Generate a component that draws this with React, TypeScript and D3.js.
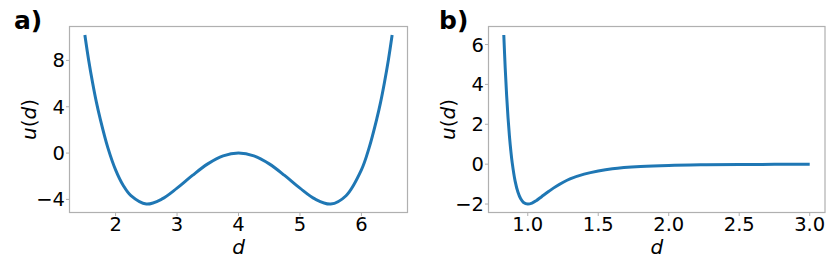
import React, { useEffect, useRef } from "react";
import * as d3 from "d3";

const width = 831,
  height = 260;

// panel a) double well
const dA = [1.5, 1.5625, 1.625, 1.6875, 1.75, 1.875, 2.0, 2.125, 2.25, 2.5, 2.75, 3.0, 3.25, 3.5, 3.75, 4.0,
  4.25, 4.5, 4.75, 5.0, 5.25, 5.5, 5.75, 6.0, 6.125, 6.25, 6.3125, 6.375, 6.4375, 6.5];
const uA = [10.2, 8.0, 6.1, 4.4, 2.95, 0.45, -1.45, -2.8, -3.68, -4.4, -3.98, -3.03, -1.93, -0.93, -0.24, 0,
  -0.24, -0.93, -1.93, -3.03, -3.98, -4.4, -3.68, -1.45, 0.45, 2.95, 4.4, 6.1, 8.0, 10.2];

// panel b) Lennard-Jones like
const dB = [0.83, 0.84, 0.85, 0.86, 0.87, 0.88, 0.89, 0.91, 0.93, 0.95, 0.97, 1.0, 1.03, 1.06, 1.1, 1.15, 1.2,
  1.3, 1.4, 1.5, 1.6, 1.8, 2.0, 2.25, 2.5, 2.75, 3.0];
const uB = [6.48, 4.82, 3.46, 2.33, 1.41, 0.66, 0.05, -0.84, -1.4, -1.74, -1.92, -2.0, -1.95, -1.83, -1.62,
  -1.36, -1.12, -0.74, -0.5, -0.34, -0.23, -0.12, -0.062, -0.031, -0.016, -0.009, -0.005];

const ticksA_x = [2, 3, 4, 5, 6];
const ticksA_y = [-4, 0, 4, 8];
const ticksB_x = [1.0, 1.5, 2.0, 2.5, 3.0];
const ticksB_y = [-2, 0, 2, 4, 6];

const font = "DejaVu Sans";
const spine = "#b0b0b0";
const ink = "#000";

function padded(vals: number[]) {
  const [lo, hi] = d3.extent(vals) as [number, number];
  const m = (hi - lo) * 0.05;
  return [lo - m, hi + m];
}

function drawPanel(svg: any, opt: any) {
  const { xs, ys, tx, ty, fmtX, left, right, top, bottom, label } = opt;
  const pts = xs.map((x: number, i: number) => [x, ys[i]]);

  const x = d3.scaleLinear().domain(padded(xs)).range([left, right]);
  const y = d3.scaleLinear().domain(padded(ys)).range([bottom, top]);

  const g = svg.append("g");

  const line = d3
    .line<number[]>()
    .x(d => x(d[0]))
    .y(d => y(d[1]))
    .curve(d3.curveCatmullRom.alpha(0.5));

  g.append("path")
    .datum(pts)
    .attr("fill", "none")
    .attr("stroke", "#1f77b4")
    .attr("stroke-width", 3)
    .attr("d", line);

  g.append("rect")
    .attr("x", left)
    .attr("y", top)
    .attr("width", right - left)
    .attr("height", bottom - top)
    .attr("fill", "none")
    .attr("stroke", spine)
    .attr("stroke-width", 1.2);

  //x ticks
  const xt = g.append("g").selectAll("g").data(tx).join("g").attr("transform", (d: number) => `translate(${x(d)},${bottom})`);
  xt.append("line").attr("y2", 3.5).attr("stroke", spine).attr("stroke-width", 1);
  xt.append("text")
    .attr("y", 18)
    .attr("text-anchor", "middle")
    .attr("font-family", font)
    .attr("font-size", 19.5)
    .attr("fill", ink)
    .text((d: number) => fmtX(d));

  //y ticks
  const yt = g.append("g").selectAll("g").data(ty).join("g").attr("transform", (d: number) => `translate(${left},${y(d)})`);
  yt.append("line").attr("x2", -3.5).attr("stroke", spine).attr("stroke-width", 1);
  yt.append("text")
    .attr("x", -4.5)
    .attr("dy", "0.36em")
    .attr("text-anchor", "end")
    .attr("font-family", font)
    .attr("font-size", 19.5)
    .attr("fill", ink)
    .text((d: number) => (d < 0 ? "\u2212" + Math.abs(d) : String(d)));

  //axis labels
  g.append("text")
    .attr("x", (left + right) / 2)
    .attr("y", 253.5)
    .attr("text-anchor", "middle")
    .attr("font-family", font)
    .attr("font-style", "italic")
    .attr("font-size", 20)
    .attr("fill", ink)
    .text("d");

  const yl = g.append("text")
    .attr("transform", `translate(${left - 34},${(top + bottom) / 2}) rotate(-90)`)
    .attr("text-anchor", "middle")
    .attr("font-family", font)
    .attr("font-size", 20)
    .attr("fill", ink);
  yl.append("tspan").attr("font-style", "italic").text("u");
  yl.append("tspan").text("(");
  yl.append("tspan").attr("font-style", "italic").text("d");
  yl.append("tspan").text(")");

  g.append("text")
    .attr("x", label.x)
    .attr("y", 29)
    .attr("font-family", font)
    .attr("font-weight", "bold")
    .attr("font-size", 25)
    .attr("fill", ink)
    .text(label.text);
}

export default function App() {
  const ref = useRef<SVGSVGElement>(null);

  useEffect(() => {
    const svg = d3.select(ref.current);
    svg.selectAll("*").remove();

    drawPanel(svg, {
      xs: dA, ys: uA, tx: ticksA_x, ty: ticksA_y,
      fmtX: (d: number) => String(d),
      left: 69.5, right: 407.5, top: 26.5, bottom: 212.5,
      label: { x: 14, text: "a)" },
    });

    drawPanel(svg, {
      xs: dB, ys: uB, tx: ticksB_x, ty: ticksB_y,
      fmtX: (d: number) => d.toFixed(1),
      left: 488.5, right: 825, top: 26.5, bottom: 212.5,
      label: { x: 439, text: "b)" },
    });
  }, []);

  return (
    <svg
      ref={ref}
      width={width}
      height={height}
      style={{ position: "absolute", left: 0, top: 0, background: "#fff" }}
    />
  );
}
